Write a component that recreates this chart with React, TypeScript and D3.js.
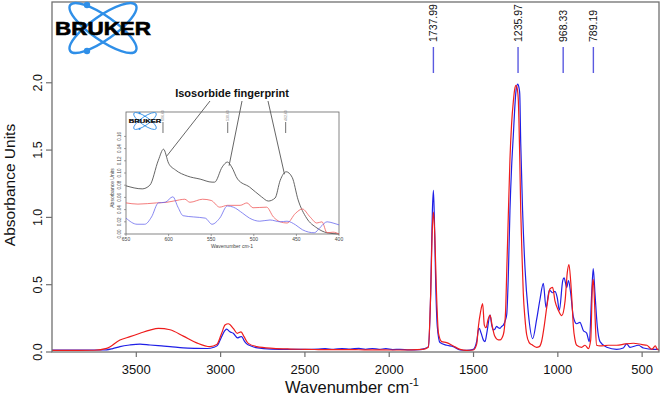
import React from "react";
import * as d3 from "d3";

// axis ticks and peak picks
const xTicks = [3500, 3000, 2500, 2000, 1500, 1000, 500];
const yTicks = [0, 0.5, 1.0, 1.5, 2.0];
const peakLabels = [1737.99, 1235.97, 968.33, 789.19];

// main spectra, [wavenumber, absorbance]
const blueSpectrum: [number, number][] = [
  [4000, 0.015], [3900, 0.014], [3800, 0.015], [3700, 0.015], [3676, 0.016], [3640, 0.025],
  [3597, 0.04], [3540, 0.052], [3478, 0.059], [3419, 0.052], [3350, 0.045], [3300, 0.04],
  [3221, 0.03], [3142, 0.027], [3080, 0.026], [3040, 0.035], [3020, 0.047], [2994, 0.114],
  [2974, 0.16], [2964, 0.17], [2945, 0.15], [2925, 0.139], [2900, 0.105], [2885, 0.112],
  [2875, 0.114], [2861, 0.085], [2845, 0.06], [2820, 0.045], [2780, 0.03], [2700, 0.022],
  [2600, 0.02], [2500, 0.02], [2420, 0.022], [2380, 0.025], [2330, 0.02], [2280, 0.026],
  [2230, 0.022], [2180, 0.027], [2140, 0.02], [2100, 0.026], [2060, 0.02], [2020, 0.025],
  [1980, 0.018], [1936, 0.02], [1880, 0.016], [1820, 0.018], [1790, 0.025], [1768, 0.04],
  [1754, 0.44], [1744, 1.05], [1738, 1.2], [1732, 0.98], [1724, 0.49], [1715, 0.19],
  [1699, 0.07], [1659, 0.05], [1620, 0.04], [1580, 0.015], [1540, 0.012], [1501, 0.02],
  [1481, 0.08], [1472, 0.16], [1466, 0.176], [1455, 0.14], [1442, 0.09], [1432, 0.077],
  [1420, 0.15], [1402, 0.275], [1392, 0.2], [1383, 0.163], [1373, 0.17], [1363, 0.19],
  [1353, 0.18], [1343, 0.176], [1333, 0.19], [1323, 0.2], [1310, 0.24], [1303, 0.28],
  [1294, 0.55], [1284, 1.05], [1274, 1.38], [1264, 1.61], [1256, 1.8], [1248, 1.94],
  [1238, 1.99], [1230, 1.96], [1226, 1.92], [1220, 1.55], [1209, 1.05], [1195, 0.63],
  [1175, 0.29], [1149, 0.1], [1126, 0.24], [1106, 0.39], [1086, 0.51], [1070, 0.33],
  [1050, 0.46], [1031, 0.44], [1017, 0.45], [1003, 0.4], [991, 0.31], [971, 0.53],
  [963, 0.55], [947, 0.48], [937, 0.53], [924, 0.44], [908, 0.26], [888, 0.21],
  [869, 0.22], [849, 0.16], [829, 0.14], [813, 0.077], [799, 0.44], [790, 0.62],
  [780, 0.44], [766, 0.19], [750, 0.077], [710, 0.035], [651, 0.02], [612, 0.03],
  [592, 0.06], [572, 0.035], [522, 0.05], [492, 0.03], [432, 0.02], [400, 0.02],
];

const redSpectrum: [number, number][] = [
  [4000, 0.012], [3850, 0.012], [3750, 0.013], [3676, 0.027], [3597, 0.089], [3537, 0.114],
  [3478, 0.139], [3419, 0.163], [3369, 0.176], [3300, 0.165], [3221, 0.118], [3142, 0.068],
  [3063, 0.04], [3023, 0.055], [2994, 0.139], [2974, 0.2], [2954, 0.21], [2925, 0.176],
  [2901, 0.139], [2879, 0.15], [2861, 0.114], [2836, 0.064], [2786, 0.04], [2688, 0.027],
  [2588, 0.022], [2500, 0.02], [2400, 0.018], [2200, 0.017], [2000, 0.015], [1936, 0.015],
  [1800, 0.02], [1768, 0.035], [1754, 0.44], [1744, 0.93], [1738, 1.04], [1730, 0.88],
  [1721, 0.49], [1708, 0.14], [1689, 0.077], [1659, 0.07], [1620, 0.045], [1580, 0.02],
  [1540, 0.012], [1501, 0.015], [1481, 0.06], [1472, 0.18], [1458, 0.3], [1446, 0.36],
  [1436, 0.2], [1426, 0.18], [1414, 0.24], [1402, 0.275], [1390, 0.2], [1375, 0.12],
  [1353, 0.09], [1343, 0.09], [1323, 0.13], [1310, 0.3], [1303, 0.6], [1294, 1.0],
  [1284, 1.43], [1274, 1.7], [1264, 1.86], [1256, 1.95], [1248, 1.98], [1240, 1.95],
  [1234, 1.86], [1226, 1.45], [1220, 1.05], [1212, 0.7], [1205, 0.44], [1195, 0.25],
  [1185, 0.13], [1170, 0.07], [1155, 0.055], [1126, 0.035], [1110, 0.04], [1096, 0.08],
  [1080, 0.2], [1066, 0.33], [1046, 0.47], [1031, 0.48], [1017, 0.38], [997, 0.31],
  [977, 0.27], [957, 0.38], [944, 0.59], [934, 0.65], [924, 0.53], [915, 0.35],
  [908, 0.19], [898, 0.09], [888, 0.05], [859, 0.035], [839, 0.05], [819, 0.025],
  [805, 0.09], [795, 0.49], [790, 0.54], [785, 0.45], [780, 0.29], [770, 0.05],
  [750, 0.045], [700, 0.05], [651, 0.05], [600, 0.06], [552, 0.065], [500, 0.055],
  [472, 0.05], [442, 0.02], [422, 0.045], [410, 0.02], [400, 0.015],
];

// inset (650-400 cm-1 fingerprint)
const insetXTicks = [650, 600, 550, 500, 450, 400];
const insetYTicks = [0, 0.02, 0.04, 0.06, 0.08, 0.1, 0.12, 0.14, 0.16];
const insetPeaks = [606.6, 530.6, 462.6];

const insetGray: [number, number][] = [
  [650, 0.079], [631, 0.074], [622, 0.08], [612, 0.121], [606, 0.139], [600, 0.116],
  [592, 0.105], [578, 0.095], [563, 0.09], [549, 0.085], [546, 0.085], [537, 0.11],
  [531, 0.118], [526, 0.11], [519, 0.09], [505, 0.077], [491, 0.061], [483, 0.054],
  [475, 0.059], [469, 0.088], [462, 0.102], [455, 0.093], [448, 0.056], [438, 0.026],
  [426, 0.01], [414, 0.002], [400, 0.0],
];
const insetRed: [number, number][] = [
  [650, 0.051], [636, 0.049], [614, 0.051], [602, 0.052], [587, 0.056], [581, 0.057],
  [575, 0.052], [560, 0.057], [550, 0.055], [540, 0.044], [531, 0.047], [516, 0.047],
  [508, 0.051], [501, 0.043], [485, 0.044], [477, 0.028], [469, 0.02], [461, 0.018],
  [451, 0.034], [443, 0.041], [434, 0.028], [426, 0.018], [420, 0.02], [414, 0.002],
  [407, 0.003], [400, 0.0],
];
const insetBlue: [number, number][] = [
  [650, 0.026], [637, 0.016], [628, 0.016], [620, 0.028], [612, 0.051], [604, 0.052],
  [595, 0.061], [589, 0.044], [583, 0.03], [571, 0.028], [557, 0.026], [549, 0.016],
  [540, 0.026], [531, 0.046], [524, 0.044], [513, 0.034], [505, 0.026], [493, 0.021],
  [481, 0.023], [469, 0.02], [461, 0.021], [451, 0.015], [443, 0.007], [429, 0.002],
  [422, 0.011], [414, 0.02], [407, 0.018], [400, 0.015],
];

const FONT = "'Liberation Sans', Arial, sans-serif";

const Logo = ({ cx, cy, s }: { cx: number; cy: number; s: number }) => (
  <g transform={`translate(${cx},${cy}) scale(${s})`}>
    <ellipse rx={40} ry={12} transform="rotate(35)" fill="none" stroke="#2f8fe8" strokeWidth={2.4} />
    <ellipse rx={40} ry={12} transform="rotate(-35)" fill="none" stroke="#2f8fe8" strokeWidth={2.4} />
    <circle cx={-16} cy={-23} r={3.2} fill="#2f8fe8" />
    <circle cx={-16} cy={23} r={3.2} fill="#2f8fe8" />
    <text x={0} y={7} textAnchor="middle" fontFamily={FONT} fontWeight={900}
      fontSize={18} textLength={96} lengthAdjust="spacingAndGlyphs" fill="#000"
      stroke="#000" strokeWidth={0.6}>BRUKER</text>
  </g>
);

export default function App() {
  const x = d3.scaleLinear().domain([4000, 400]).range([52, 659]);
  const y = d3.scaleLinear().domain([0, 2.6]).range([352, 2]);
  const line = d3.line<[number, number]>()
    .x((d) => x(d[0]))
    .y((d) => y(d[1]))
    .curve(d3.curveMonotoneX);

  // inset scales
  const ix = d3.scaleLinear().domain([650, 400]).range([126, 339]);
  const iy = d3.scaleLinear().domain([0, 0.2]).range([234, 112]);
  const iline = d3.line<[number, number]>()
    .x((d) => ix(d[0]))
    .y((d) => iy(d[1]))
    .curve(d3.curveMonotoneX);

  // callout targets (peaks of the gray trace)
  const callouts = [
    { from: [210, 101], wn: 602, a: 0.128 },
    { from: [242, 101], wn: 529, a: 0.112 },
    { from: [268, 101], wn: 464, a: 0.098 },
  ];

  return (
    <svg width={660} height={398} style={{ position: "absolute", left: 0, top: 0, background: "#fff" }}
      fontFamily={FONT}>
      <defs>
        <clipPath id="plot">
          <rect x={52} y={2} width={607} height={350} />
        </clipPath>
      </defs>

      {/* spectra */}
      <g clipPath="url(#plot)">
        <path d={line(blueSpectrum) || ""} fill="none" stroke="#1f1fe6" strokeWidth={1.2} />
        <path d={line(redSpectrum) || ""} fill="none" stroke="#ee1c1c" strokeWidth={1.2} />
      </g>

      {/* frame */}
      <rect x={52} y={2} width={607} height={350} fill="none" stroke="#707070" strokeWidth={1.3} />

      {/* x axis */}
      {xTicks.map((t) => (
        <g key={t}>
          <line x1={x(t)} x2={x(t)} y1={352} y2={357} stroke="#707070" strokeWidth={1.2} />
          <text x={x(t)} y={374} textAnchor="middle" fontSize={13} fill="#111">{t}</text>
        </g>
      ))}
      <text x={352} y={393} textAnchor="middle" fontSize={16.5} fill="#111">
        Wavenumber cm<tspan dy={-7} fontSize={11}>-1</tspan>
      </text>

      {/* y axis */}
      {yTicks.map((t) => (
        <g key={t}>
          <line x1={46} x2={52} y1={y(t)} y2={y(t)} stroke="#707070" strokeWidth={1.2} />
          <text transform={`translate(42,${y(t)}) rotate(-90)`} textAnchor="middle" fontSize={12.5} fill="#111">
            {t.toFixed(1)}
          </text>
        </g>
      ))}
      <text transform="translate(15,185) rotate(-90)" textAnchor="middle" fontSize={15.5} fill="#111">
        Absorbance Units
      </text>

      {/* peak picks */}
      {peakLabels.map((p) => (
        <g key={p}>
          <line x1={x(p)} x2={x(p)} y1={47} y2={73} stroke="#5a5ae0" strokeWidth={1.4} />
          <text transform={`translate(${x(p) + 4},42) rotate(-90)`} textAnchor="start" fontSize={10.5} fill="#111">
            {p.toFixed(2)}
          </text>
        </g>
      ))}

      <Logo cx={103} cy={28} s={1} />

      {/* inset */}
      <g>
        <rect x={126} y={112} width={213} height={122} fill="#fff" stroke="#666" strokeWidth={0.8} />
        <path d={iline(insetGray) || ""} fill="none" stroke="#555" strokeWidth={0.9} />
        <path d={iline(insetRed) || ""} fill="none" stroke="#f05a5a" strokeWidth={0.8} />
        <path d={iline(insetBlue) || ""} fill="none" stroke="#6a6aee" strokeWidth={0.8} />
        {insetXTicks.map((t) => (
          <g key={t}>
            <line x1={ix(t)} x2={ix(t)} y1={234} y2={236} stroke="#666" strokeWidth={0.6} />
            <text x={ix(t)} y={241} textAnchor="middle" fontSize={5} fill="#444">{t}</text>
          </g>
        ))}
        <text x={232} y={248} textAnchor="middle" fontSize={5} fill="#444">Wavenumber cm-1</text>
        {insetYTicks.map((t) => (
          <g key={t}>
            <line x1={124} x2={126} y1={iy(t)} y2={iy(t)} stroke="#666" strokeWidth={0.6} />
            <text transform={`translate(121,${iy(t)}) rotate(-90)`} textAnchor="middle" fontSize={4.5} fill="#444">
              {t.toFixed(2)}
            </text>
          </g>
        ))}
        <text transform="translate(114,188) rotate(-90)" textAnchor="middle" fontSize={5} fill="#444">
          Absorbance Units
        </text>
        {insetPeaks.map((p) => (
          <g key={p}>
            <line x1={ix(p)} x2={ix(p)} y1={122} y2={133} stroke="#333" strokeWidth={0.7} />
            <text transform={`translate(${ix(p) + 1.2},121) rotate(-90)`} textAnchor="start" fontSize={3.5} fill="#777">
              {p.toFixed(2)}
            </text>
          </g>
        ))}
        <Logo cx={145} cy={121} s={0.34} />
      </g>

      {/* callout */}
      <text x={232} y={97} textAnchor="middle" fontSize={11} fontWeight="bold" fill="#111">
        Isosorbide fingerprint
      </text>
      {callouts.map((c, i) => (
        <line key={i} x1={c.from[0]} y1={c.from[1]} x2={ix(c.wn)} y2={iy(c.a)} stroke="#555" strokeWidth={0.9} />
      ))}
    </svg>
  );
}
